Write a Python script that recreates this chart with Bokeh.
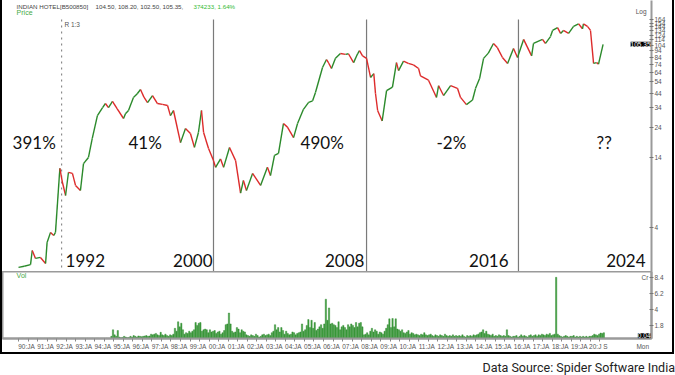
import math
from bokeh.plotting import figure
from bokeh.models import ColumnDataSource, Range1d, FixedTicker, Label, LabelSet, Div
from bokeh.layouts import column
from bokeh.embed import file_html
from bokeh.resources import INLINE
from bokeh.core.properties import value

# ---------------- data ----------------
price_dates = [
    1990.00, 1990.30, 1990.63, 1990.72, 1990.89, 1991.15, 1991.42, 1991.50, 1991.68, 1991.85, 1991.94, 1992.17,
    1992.30, 1992.47, 1992.62, 1992.83, 1992.99, 1993.25, 1993.41, 1993.67, 1993.87, 1994.14, 1994.41, 1994.56,
    1994.72, 1994.93, 1995.18, 1995.51, 1995.61, 1995.77, 1996.03, 1996.23, 1996.40, 1996.58, 1996.77, 1997.03,
    1997.29, 1997.55, 1997.82, 1997.97, 1998.13, 1998.50, 1998.76, 1999.02, 1999.23, 1999.44, 1999.60, 1999.71,
    1999.97, 2000.23, 2000.34, 2000.60, 2000.76, 2001.07, 2001.39, 2001.65, 2001.80, 2001.96, 2002.28, 2002.70,
    2003.06, 2003.22, 2003.43, 2003.64, 2003.90, 2004.11, 2004.43, 2004.64, 2004.95, 2005.22, 2005.43, 2005.58,
    2005.95, 2006.16, 2006.27, 2006.42, 2006.63, 2006.89, 2007.16, 2007.31, 2007.58, 2007.79, 2007.89, 2008.05,
    2008.26, 2008.47, 2008.64, 2008.73, 2008.84, 2009.08, 2009.31, 2009.62, 2009.83, 2009.94, 2010.20, 2010.45,
    2010.72, 2010.99, 2011.09, 2011.51, 2011.93, 2012.04, 2012.30, 2012.67, 2013.03, 2013.19, 2013.50, 2013.82,
    2013.98, 2014.19, 2014.40, 2014.65, 2014.92, 2015.13, 2015.39, 2015.66, 2015.97, 2016.18, 2016.50, 2016.92,
    2017.02, 2017.49, 2017.65, 2017.91, 2018.02, 2018.28, 2018.44, 2018.59, 2018.86, 2019.12, 2019.38, 2019.59,
    2019.64, 2019.85, 2020.01, 2020.17, 2020.33, 2020.43, 2020.67,
]
price_close = [
    1.96, 2.00, 2.06, 2.65, 2.30, 2.34, 2.10, 3.06, 3.66, 3.46, 3.66, 11.5,
    9.0, 7.08, 10.7, 10.5, 8.47, 7.74, 12.5, 13.96, 19.6, 29.5, 34.0, 36.6,
    34.0, 38.0, 33.3, 28.0, 30.5, 32.3, 40.8, 43.6, 47.0, 41.0, 37.2, 42.2,
    36.6, 36.0, 35.3, 29.5, 32.3, 18.2, 23.4, 21.4, 16.7, 21.8, 32.3, 21.8,
    16.4, 13.2, 11.7, 13.6, 11.7, 16.7, 13.2, 7.38, 9.25, 7.74, 10.5, 8.47,
    11.7, 10.1, 14.5, 15.0, 25.6, 24.0, 19.9, 25.6, 33.0, 37.3, 38.4, 44.6,
    69.6, 80.3, 75.5, 68.4, 82.0, 89.4, 88.0, 89.0, 76.0, 89.0, 94.0, 85.7,
    82.0, 58.3, 62.4, 43.7, 32.3, 26.8, 46.0, 49.0, 76.0, 65.8, 78.0, 75.0,
    73.0, 68.4, 60.0, 55.5, 40.8, 50.3, 42.2, 50.3, 48.0, 40.8, 35.9, 39.0,
    48.0, 57.2, 82.0, 90.0, 107.0, 99.0, 83.3, 74.9, 97.7, 83.3, 115.0, 85.7,
    107.0, 115.0, 107.0, 121.0, 135.0, 142.0, 128.0, 135.0, 128.0, 145.0, 152.0, 139.0,
    152.0, 145.0, 135.0, 75.0, 76.0, 74.0, 105.35,
]

# monthly volume (Cr), Jan 1990 .. Sep 2020
volume_cr = [
    0.02, 0.02, 0.03, 0.02, 0.02, 0.03, 0.02, 0.02, 0.03, 0.02, 0.02, 0.03,  # 1990
    0.02, 0.03, 0.02, 0.02, 0.03, 0.02, 0.02, 0.03, 0.02, 0.02, 0.03, 0.02,  # 1991
    0.03, 0.02, 0.02, 0.03, 0.02, 0.02, 0.03, 0.02, 0.02, 0.03, 0.02, 0.02,  # 1992
    0.02, 0.03, 0.02, 0.02, 0.03, 0.02, 0.02, 0.03, 0.02, 0.02, 0.03, 0.02,  # 1993
    0.02, 0.03, 0.02, 0.02, 0.03, 0.02, 0.02, 0.03, 0.02, 0.02, 0.30, 1.20,  # 1994
    0.50, 0.30, 1.10, 0.20, 0.10, 0.15, 0.30, 0.20, 0.10, 0.15, 0.30, 0.20,  # 1995
    0.40, 0.30, 0.20, 0.35, 0.30, 0.25, 0.30, 0.35, 0.40, 0.30, 0.35, 0.60,  # 1996
    0.50, 0.60, 0.70, 0.50, 0.40, 0.85, 0.50, 0.40, 0.60, 0.40, 0.30, 0.50,  # 1997
    0.40, 0.60, 1.40, 1.00, 2.30, 1.60, 2.10, 1.20, 0.60, 0.80, 0.70, 1.00,  # 1998
    0.80, 1.00, 1.20, 2.20, 1.80, 2.10, 2.20, 1.00, 1.20, 1.30, 1.20, 0.80,  # 1999
    1.20, 0.90, 1.00, 1.10, 0.70, 0.90, 1.00, 0.60, 0.80, 1.10, 1.90, 2.00,  # 2000
    3.50, 2.00, 1.00, 0.80, 0.90, 1.50, 1.30, 0.80, 1.20, 1.00, 0.90, 0.50,  # 2001
    0.40, 0.30, 0.50, 0.40, 0.30, 0.60, 0.40, 0.20, 0.30, 0.50, 0.60, 0.40,  # 2002
    0.50, 0.60, 0.40, 0.80, 1.00, 1.90, 1.20, 1.50, 0.90, 1.50, 1.10, 0.60,  # 2003
    1.00, 0.70, 0.50, 0.60, 0.90, 0.80, 0.50, 0.70, 0.80, 0.90, 2.00, 1.00,  # 2004
    1.20, 1.80, 2.60, 1.50, 2.50, 1.40, 2.20, 1.10, 1.30, 1.60, 1.90, 1.40,  # 2005
    2.00, 5.40, 2.50, 4.20, 2.00, 2.10, 1.90, 1.80, 1.50, 2.30, 1.20, 1.60,  # 2006
    1.80, 1.50, 1.20, 1.90, 1.60, 2.00, 1.80, 1.50, 2.20, 1.60, 2.10, 2.20,  # 2007
    1.60, 0.50, 0.60, 0.80, 0.50, 1.00, 1.40, 0.90, 1.20, 1.00, 0.60, 0.90,  # 2008
    0.80, 0.60, 1.00, 1.40, 1.90, 2.70, 1.50, 2.75, 1.60, 2.70, 1.30, 1.20,  # 2009
    1.00, 1.20, 0.80, 0.70, 0.90, 1.10, 0.60, 0.80, 0.70, 0.50, 0.60, 0.50,  # 2010
    0.40, 0.60, 0.50, 0.80, 0.50, 0.40, 0.50, 0.60, 0.40, 0.30, 0.50, 0.40,  # 2011
    0.30, 0.50, 0.40, 0.30, 0.60, 0.40, 0.30, 0.40, 0.30, 0.50, 0.30, 0.40,  # 2012
    0.30, 0.40, 0.30, 0.50, 0.30, 0.20, 0.40, 0.30, 0.40, 0.30, 0.50, 0.40,  # 2013
    0.50, 0.60, 0.80, 0.90, 1.20, 0.70, 1.00, 0.60, 0.50, 0.40, 0.60, 0.30,  # 2014
    0.40, 0.30, 0.50, 0.40, 0.30, 0.40, 0.30, 1.20, 0.40, 0.30, 0.20, 0.30,  # 2015
    0.30, 0.40, 0.20, 0.30, 0.50, 0.30, 0.40, 0.30, 0.20, 0.40, 0.50, 0.30,  # 2016
    0.40, 0.50, 0.30, 0.50, 0.40, 0.60, 0.50, 0.40, 0.60, 0.50, 0.70, 0.40,  # 2017
    0.50, 0.60, 8.40, 0.60, 0.40, 0.30, 0.20, 0.30, 0.40, 0.30, 0.20, 0.30,  # 2018
    0.30, 0.40, 0.20, 0.30, 0.20, 0.30, 0.20, 0.30, 0.20, 0.30, 0.20, 0.30,  # 2019
    0.30, 0.40, 0.60, 0.50, 0.40, 0.60, 0.75, 0.70, 0.80,                    # 2020
]
volume_first_year = 1990

year_tick_labels = ["90:JA", "91:JA", "92:JA", "93:JA", "94:JA", "95:JA", "96:JA", "97:JA",
                    "98:JA", "99:JA", "00:JA", "01:JA", "02:JA", "03:JA", "04:JA", "05:JA",
                    "06:JA", "07:JA", "08:JA", "09:JA", "10:JA", "11:JA", "12:JA", "13:JA",
                    "14:JA", "15:JA", "16:JA", "17:JA", "18:JA", "19:JA", "20:J S"]
price_ticks = [4, 14, 24, 34, 44, 54, 64, 74, 84, 94, 104, 114, 124, 134, 144, 154, 164]
volume_ticks = [1.8, 4, 6.2, 8.4]

period_starts = [1992.26, 2000.23, 2008.26, 2016.23]
period_labels = ["1992", "2000", "2008", "2016", "2024"]
period_returns = ["391%", "41%", "490%", "-2%", "??"]

last_close = 105.35
last_volume = 0.04

# ---------------- styling / layout ----------------
GREEN = "#2b8a2b"
RED = "#dd2b2b"
AXIS_GRAY = "#9a9a9a"
X_RANGE = (1989.16, 2023.21)
FIG_W = 670
RIGHT_W = 21
BIG_FONT = "Lato"
SMALL_FONT = "Liberation Sans"
PRICE_LOW = 1.82

# -------- price panel --------
p = figure(width=FIG_W, height=271, y_axis_type="log",
           x_range=Range1d(*X_RANGE), y_range=Range1d(PRICE_LOW, 230.5),
           x_axis_location=None, y_axis_location="right",
           output_backend="svg", toolbar_location=None,
           min_border_left=0, min_border_right=RIGHT_W, min_border_top=0, min_border_bottom=0)
p.outline_line_color = None
p.grid.visible = False
p.background_fill_color = "white"
p.border_fill_color = "white"

yax = p.yaxis[0]
yax.ticker = FixedTicker(ticks=price_ticks)
yax.major_label_overrides = {t: str(t) for t in price_ticks}
yax.major_label_text_font_size = "6.5px"
yax.major_label_text_font = SMALL_FONT
yax.major_label_text_color = "#555555"
yax.major_label_standoff = 1
yax.axis_line_color = AXIS_GRAY
yax.axis_line_width = 2
yax.major_tick_in = 2
yax.major_tick_out = 2
yax.major_tick_line_color = "#777777"
yax.minor_tick_line_color = None

# period separator lines
top_of_lines = 164
seg_src = ColumnDataSource(dict(
    x=period_starts,
    y0=[top_of_lines] * len(period_starts),
    y1=[PRICE_LOW] * len(period_starts),
    dash=["dotted"] + ["solid"] * (len(period_starts) - 1),
    color=["#8a8a8a"] + ["#7a7a7a"] * (len(period_starts) - 1),
))
p.segment(x0="x", y0="y0", x1="x", y1="y1", line_dash="dash", line_color="color",
          line_width=1.2, source=seg_src)

# price line coloured by direction
x0 = price_dates[:-1]
x1 = price_dates[1:]
y0 = price_close[:-1]
y1 = price_close[1:]
cols = [GREEN if b >= a else RED for a, b in zip(y0, y1)]
p.segment(x0=x0, y0=y0, x1=x1, y1=y1, line_color=cols, line_width=1.4)

# period return labels
ret_x = [1989.69, 1995.77, 2004.80, 2011.93, 2020.33]
p.text(x=ret_x, y=[18.2] * len(ret_x), text=period_returns,
       text_font=value(BIG_FONT), text_font_size="17px", text_color="#111111",
       text_baseline="middle", text_align="left")

# period year labels (annotation, near the panel's bottom edge)
yl_src = ColumnDataSource(dict(
    x=[1992.47, 2000.18, 2008.15, 2015.71, 2022.90],
    y=[1.98] * len(period_labels),
    text=period_labels,
    align=["left", "right", "right", "right", "right"],
))
p.add_layout(LabelSet(x="x", y="y", text="text", source=yl_src, text_align="align",
                      text_font=value(BIG_FONT), text_font_size="17px",
                      text_color="#111111", text_baseline="alphabetic"))


def small_label(fig, x, y, text, color="#444444", size="6.5px", align="left",
                baseline="middle", **kw):
    lab = Label(x=x, y=y, text=text, text_font=SMALL_FONT, text_font_size=size,
                text_color=color, text_align=align, text_baseline=baseline, **kw)
    fig.add_layout(lab)
    return lab


# header texts
small_label(p, 1989.90, 207, "INDIAN HOTEL[B500850]", size="6.2px")
small_label(p, 1994.04, 207, "104.50,  108.20,  102.50,  105.35,", size="6.2px")
small_label(p, 1999.18, 207, "374233,  1.64%", color="#33bb33", size="6.2px")
small_label(p, 1989.90, 186, "Price", color="#44aa44", size="7px")
small_label(p, 2022.95, 190, "Log", color="#555555", align="right")
small_label(p, 1992.41, 159, "R 1:3", color="#555555", baseline="top")
small_label(p, X_RANGE[1], last_close, f"{last_close:.2f}", color="white", align="right",
            x_offset=-1, background_fill_color="black", background_fill_alpha=1.0)

# -------- volume panel --------
vol_x = [volume_first_year + (i + 0.5) / 12 for i in range(len(volume_cr))]
pv = figure(width=FIG_W, height=81,
            x_range=p.x_range, y_range=Range1d(0, 9.2),
            y_axis_location="right",
            output_backend="svg", toolbar_location=None,
            min_border_left=0, min_border_right=RIGHT_W, min_border_top=0, min_border_bottom=12)
pv.outline_line_color = AXIS_GRAY
pv.outline_line_width = 2
pv.grid.visible = False
pv.vbar(x=vol_x, top=volume_cr, width=0.07, bottom=0,
        fill_color="#3f9f3f", line_color="#2e862e", line_width=0.4)

vy = pv.yaxis[0]
vy.ticker = FixedTicker(ticks=volume_ticks)
vy.major_label_overrides = {t: str(t) for t in volume_ticks}
vy.major_label_text_font_size = "6.5px"
vy.major_label_text_font = SMALL_FONT
vy.major_label_text_color = "#555555"
vy.major_label_standoff = 1
vy.axis_line_color = AXIS_GRAY
vy.axis_line_width = 2
vy.major_tick_in = 2
vy.major_tick_out = 2
vy.major_tick_line_color = "#777777"
vy.minor_tick_line_color = None

years = list(range(volume_first_year, volume_first_year + len(year_tick_labels)))
label_pos = [round(y + 0.42, 2) for y in years]
mon_pos = 2022.75
vx = pv.xaxis[0]
vx.ticker = FixedTicker(ticks=label_pos + [mon_pos],
                        minor_ticks=[y + h for y in years for h in (0.0, 0.5)])
overrides = {pos: lab for pos, lab in zip(label_pos, year_tick_labels)}
overrides[mon_pos] = "Mon"
vx.major_label_overrides = overrides
vx.major_label_text_font_size = "6.5px"
vx.major_label_text_font = SMALL_FONT
vx.major_label_text_color = "#555555"
vx.major_label_standoff = 1
vx.major_tick_in = 0
vx.major_tick_out = 0
vx.minor_tick_in = 0
vx.minor_tick_out = 3
vx.minor_tick_line_color = "#888888"
vx.axis_line_color = AXIS_GRAY
vx.axis_line_width = 2

small_label(pv, 1989.90, 8.67, "Vol", color="#44aa44", size="7px")
small_label(pv, 2023.05, 8.4, "Cr", color="#555555", align="right")
small_label(pv, X_RANGE[1], last_volume, f"{last_volume:.2f}", color="white", align="right",
            x_offset=-1, baseline="bottom",
            background_fill_color="black", background_fill_alpha=1.0)

chart = column(p, pv, spacing=0,
               styles={"border-left": "2px solid black", "border-right": "2px solid black",
                       "border-bottom": "2px solid black"})

footer = Div(text="Data Source: Spider Software India", width=FIG_W + 4, height=20,
             styles={"text-align": "right", "font-family": "Roboto, sans-serif",
                     "font-size": "12.5px", "color": "#222222", "width": f"{FIG_W}px"})

layout = column(chart, footer, spacing=0)

with open("out.html", "w") as f:
    f.write(file_html(layout, INLINE))
